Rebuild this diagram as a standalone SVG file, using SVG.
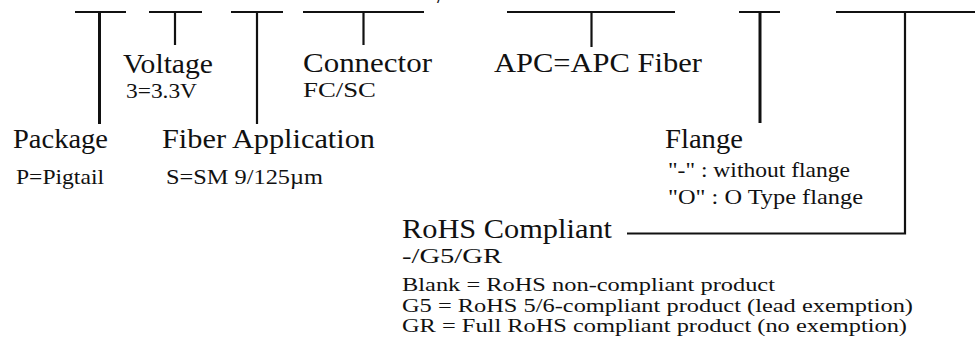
<svg xmlns="http://www.w3.org/2000/svg" width="975" height="344" viewBox="0 0 975 344">
<style>
  .bg { fill: #ffffff; }
  .t { font-family: "Liberation Serif", "Times New Roman", serif; fill: #111111; }
  .lg { font-size: 27px; }
  .sm { font-size: 21px; }
  .xs { font-size: 18.5px; }
  .ln { stroke: #111111; fill: none; stroke-linecap: butt; }
  .bar { stroke-width: 2.2; }
  .stem { stroke-width: 2.2; }
  .stemb { stroke-width: 3; }
</style>
<rect class="bg" x="0" y="0" width="975" height="344"/>
<text class="t lg" x="437" y="2.5">/</text>
<g id="connectors">
  <line class="ln bar" x1="75" y1="12" x2="126" y2="12"/>
  <line class="ln stemb" x1="99.5" y1="12" x2="99.5" y2="124"/>
  <line class="ln bar" x1="149" y1="12" x2="202" y2="12"/>
  <line class="ln stem" x1="175" y1="12" x2="175" y2="45"/>
  <line class="ln bar" x1="231" y1="12" x2="283" y2="12"/>
  <line class="ln stem" x1="257" y1="12" x2="257" y2="124"/>
  <line class="ln bar" x1="303" y1="12" x2="424" y2="12"/>
  <line class="ln stem" x1="363.5" y1="12" x2="363.5" y2="45"/>
  <line class="ln bar" x1="507" y1="12" x2="675" y2="12"/>
  <line class="ln stem" x1="591.5" y1="12" x2="591.5" y2="47"/>
  <line class="ln bar" x1="739" y1="12" x2="780" y2="12"/>
  <line class="ln stemb" x1="760" y1="12" x2="760" y2="123"/>
  <line class="ln bar" x1="836" y1="12" x2="975" y2="12"/>
  <polyline class="ln stem" points="905,12 905,233.5 627,233.5"/>
</g>
<g id="package">
  <text class="t lg" x="13" y="148" textLength="95" lengthAdjust="spacingAndGlyphs">Package</text>
  <text class="t sm" x="16" y="184" textLength="88" lengthAdjust="spacingAndGlyphs">P=Pigtail</text>
</g>
<g id="voltage">
  <text class="t lg" x="123" y="73" textLength="90" lengthAdjust="spacingAndGlyphs">Voltage</text>
  <text class="t sm" x="126" y="98" textLength="71" lengthAdjust="spacingAndGlyphs">3=3.3V</text>
</g>
<g id="fiber-application">
  <text class="t lg" x="162" y="148" textLength="213" lengthAdjust="spacingAndGlyphs">Fiber Application</text>
  <text class="t sm" x="166" y="184" textLength="157" lengthAdjust="spacingAndGlyphs">S=SM 9/125µm</text>
</g>
<g id="connector">
  <text class="t lg" x="303" y="72" textLength="129" lengthAdjust="spacingAndGlyphs">Connector</text>
  <text class="t sm" x="303" y="97" textLength="73" lengthAdjust="spacingAndGlyphs">FC/SC</text>
</g>
<g id="apc">
  <text class="t lg" x="494" y="72" textLength="208" lengthAdjust="spacingAndGlyphs">APC=APC Fiber</text>
</g>
<g id="flange">
  <text class="t lg" x="665" y="148" textLength="78" lengthAdjust="spacingAndGlyphs">Flange</text>
  <text class="t sm" x="668" y="177" textLength="182" lengthAdjust="spacingAndGlyphs">"-" : without flange</text>
  <text class="t sm" x="668" y="204" textLength="195" lengthAdjust="spacingAndGlyphs">"O" : O Type flange</text>
</g>
<g id="rohs">
  <text class="t lg" x="402" y="238" textLength="210" lengthAdjust="spacingAndGlyphs">RoHS Compliant</text>
  <text class="t sm" x="402" y="262.5" textLength="100" lengthAdjust="spacingAndGlyphs">-/G5/GR</text>
  <text class="t xs" x="402" y="291" textLength="373" lengthAdjust="spacingAndGlyphs">Blank = RoHS non-compliant product</text>
  <text class="t xs" x="402" y="311.5" textLength="511" lengthAdjust="spacingAndGlyphs">G5 = RoHS 5/6-compliant product (lead exemption)</text>
  <text class="t xs" x="402" y="331.5" textLength="505" lengthAdjust="spacingAndGlyphs">GR = Full RoHS compliant product (no exemption)</text>
</g>
</svg>
